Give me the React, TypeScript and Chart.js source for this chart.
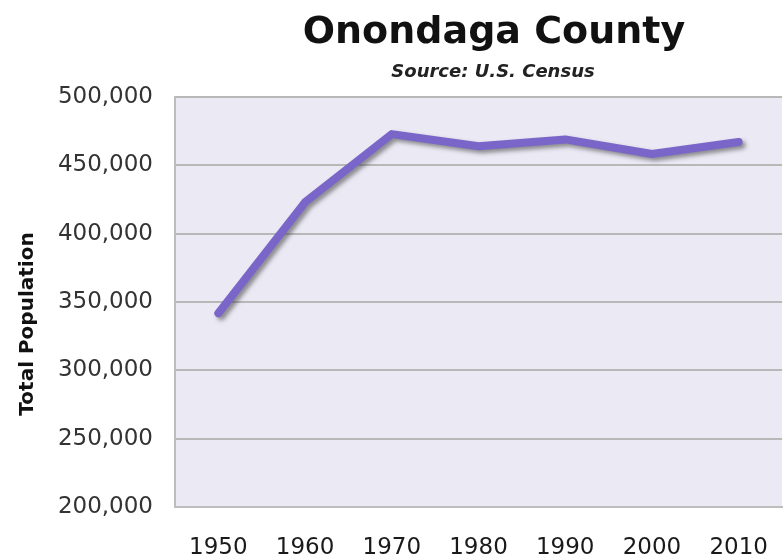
import React, { useEffect, useRef } from "react";
import { Chart, registerables } from "chart.js";

Chart.register(...registerables);

const years = ["1950", "1960", "1970", "1980", "1990", "2000", "2010"];
const population = [341719, 423028, 472835, 463920, 468973, 458336, 467026];
const yTicks = [200000, 250000, 300000, 350000, 400000, 450000, 500000];
const titleText = "Onondaga County";
const subtitleText = "Source: U.S. Census";
const yTitleText = "Total Population";

const FONT = "'DejaVu Sans', sans-serif";

const decorPlugin = {
  id: "decor",
  beforeDraw(chart: any) {
    const { ctx, chartArea } = chart;
    ctx.save();
    ctx.fillStyle = "#ebe9f4";
    ctx.fillRect(chartArea.left, chartArea.top, chartArea.right - chartArea.left, chartArea.bottom - chartArea.top);
    ctx.restore();
  },
  beforeDatasetsDraw(chart: any) {
    const ctx = chart.ctx;
    ctx.save();
    ctx.shadowColor = "rgba(60,60,60,0.55)";
    ctx.shadowBlur = 4;
    ctx.shadowOffsetX = 3;
    ctx.shadowOffsetY = 3;
  },
  afterDatasetsDraw(chart: any) {
    chart.ctx.restore();
  },
  afterDraw(chart: any) {
    const { ctx } = chart;
    ctx.save();
    ctx.fillStyle = "#111";
    ctx.textAlign = "center";
    ctx.textBaseline = "alphabetic";
    ctx.font = `bold 38px ${FONT}`;
    ctx.fillText(titleText, 494, 43);
    ctx.font = `italic bold 18px ${FONT}`;
    ctx.fillStyle = "#222";
    ctx.fillText(subtitleText, 493, 77);
    ctx.translate(28, 324);
    ctx.rotate(-Math.PI / 2);
    ctx.textBaseline = "middle";
    ctx.font = `bold 20px ${FONT}`;
    ctx.fillStyle = "#111";
    ctx.fillText(yTitleText, 0, 0);
    ctx.restore();
  },
};

export default function App() {
  const ref = useRef<HTMLCanvasElement | null>(null);
  useEffect(() => {
    document.body.style.margin = "0";
    const canvas = ref.current!;
    const chart = new Chart(canvas, {
      type: "line",
      data: {
        labels: years,
        datasets: [
          {
            data: population,
            borderColor: "#7a66c9",
            borderWidth: 8,
            borderJoinStyle: "round",
            borderCapStyle: "round",
            pointRadius: 0,
            tension: 0,
            fill: false,
          },
        ],
      },
      options: {
        responsive: false,
        animation: false,
        layout: { padding: { top: 97, right: 2, left: 0, bottom: 0 } },
        plugins: {
          legend: { display: false },
          tooltip: { enabled: false },
          title: { display: false },
        },
        scales: {
          x: {
            type: "category",
            offset: true,
            grid: { display: false, drawTicks: false },
            border: { display: true, color: "#bdbdbd", width: 2 },
            ticks: {
              padding: 27,
              color: "#1a1a1a",
              font: { family: FONT, size: 23 },
              maxRotation: 0,
            },
            afterFit(scale: any) {
              scale.height = 51;
              scale.paddingLeft = 0;
              scale.paddingRight = 0;
            },
          },
          y: {
            min: 200000,
            max: 500000,
            afterBuildTicks(scale: any) {
              scale.ticks = yTicks.map((v) => ({ value: v }));
            },
            grid: { color: "#b8b8b8", lineWidth: 2, drawTicks: false },
            border: { display: true, color: "#bdbdbd", width: 2 },
            ticks: {
              padding: 22,
              color: "#333",
              font: { family: FONT, size: 23 },
              callback: (v: any) => Number(v).toLocaleString("en-US"),
            },
            afterFit(scale: any) {
              scale.width = 175;
              scale.paddingTop = 0;
              scale.paddingBottom = 0;
            },
          },
        },
      },
      plugins: [decorPlugin],
    });
    return () => chart.destroy();
  }, []);
  return (
    <div style={{ width: 784, height: 558, background: "#fff" }}>
      <canvas ref={ref} width={784} height={558} />
    </div>
  );
}
